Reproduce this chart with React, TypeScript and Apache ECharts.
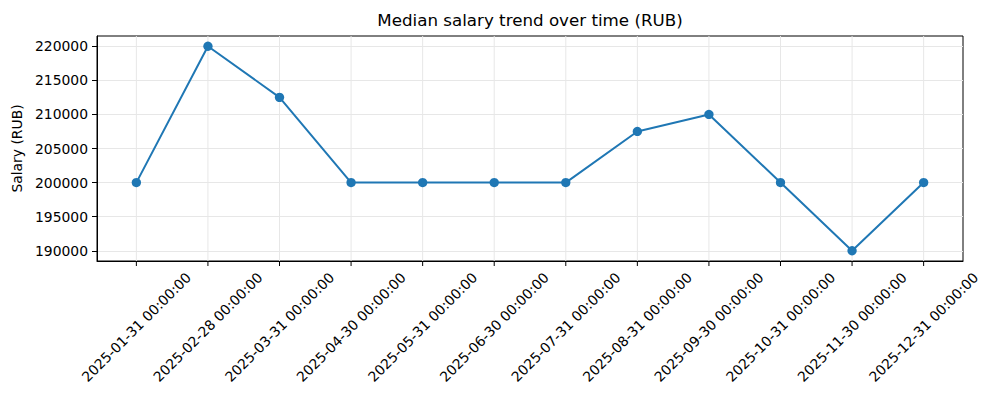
import React, { useEffect, useRef } from "react";
import * as echarts from "echarts";

const categories: string[] = [
  "2025-01-31 00:00:00",
  "2025-02-28 00:00:00",
  "2025-03-31 00:00:00",
  "2025-04-30 00:00:00",
  "2025-05-31 00:00:00",
  "2025-06-30 00:00:00",
  "2025-07-31 00:00:00",
  "2025-08-31 00:00:00",
  "2025-09-30 00:00:00",
  "2025-10-31 00:00:00",
  "2025-11-30 00:00:00",
  "2025-12-31 00:00:00",
];
const salaries: number[] = [
  200000, 220000, 212500, 200000, 200000, 200000, 200000, 207500, 210000, 200000, 190000, 200000,
];
const yTicks: number[] = [190000, 195000, 200000, 205000, 210000, 215000, 220000];

const FONT = "DejaVu Sans";
const Y_MIN = 188500;
const Y_MAX = 221500;

export default function App() {
  const ref = useRef<HTMLDivElement>(null);
  useEffect(() => {
    if (!ref.current) return;
    const chart = echarts.init(ref.current, undefined, { renderer: "svg" });
    const xIdx = categories.map((_, i) => i);
    const n = categories.length;
    const pad = (n - 1) * 0.05;
    chart.setOption({
      animation: false,
      backgroundColor: "#ffffff",
      title: {
        text: "Median salary trend over time (RUB)",
        left: 530,
        top: 11,
        textAlign: "center",
        padding: 0,
        textStyle: { fontFamily: FONT, fontSize: 16.7, fontWeight: "normal", color: "#000" },
      },
      grid: {
        left: 97,
        right: 37,
        top: 36,
        bottom: 139,
        show: true,
        borderColor: "#000",
        borderWidth: 1,
        backgroundColor: "transparent",
      },
      xAxis: {
        type: "value",
        min: -pad,
        max: n - 1 + pad,
        axisLine: { show: true, onZero: false, lineStyle: { color: "#000", width: 1 } },
        axisTick: { show: false },
        axisLabel: {
          customValues: xIdx,
          rotate: 45,
          align: "center",
          verticalAlign: "middle",
          margin: 66,
          fontFamily: FONT,
          fontSize: 13.9,
          color: "#000",
          formatter: (v: number) => categories[Math.round(v)] ?? "",
        },
        splitLine: { show: false },
      },
      yAxis: {
        type: "value",
        min: Y_MIN,
        max: Y_MAX,
        name: "Salary (RUB)",
        nameLocation: "middle",
        nameGap: 66,
        nameTextStyle: { fontFamily: FONT, fontSize: 13.9, color: "#000" },
        axisLine: { show: true, onZero: false, lineStyle: { color: "#000", width: 1 } },
        axisTick: { show: true, length: 5, customValues: yTicks, lineStyle: { color: "#000", width: 1 } },
        axisLabel: {
          customValues: yTicks,
          margin: 9,
          fontFamily: FONT,
          fontSize: 13.9,
          color: "#000",
          formatter: (v: number) => String(v),
        },
        splitLine: { show: true, lineStyle: { color: "#e7e7e7", width: 1 } },
      },
      series: [
        {
          type: "custom",
          silent: true,
          z: 1,
          clip: false,
          data: xIdx,
          renderItem: (_params: any, api: any) => {
            const i = api.value(0);
            const top = api.coord([i, Y_MAX]);
            const bot = api.coord([i, Y_MIN]);
            return {
              type: "group",
              children: [
                {
                  type: "line",
                  shape: { x1: top[0], y1: top[1], x2: bot[0], y2: bot[1] },
                  style: { stroke: "#e7e7e7", lineWidth: 1 },
                },
                {
                  type: "line",
                  shape: { x1: bot[0], y1: bot[1], x2: bot[0], y2: bot[1] + 5 },
                  style: { stroke: "#000", lineWidth: 1 },
                },
              ],
            };
          },
          encode: { x: 0 },
        },
        {
          type: "line",
          z: 3,
          data: salaries.map((v, i) => [i, v]),
          symbol: "circle",
          symbolSize: 9.3,
          itemStyle: { color: "#1f77b4" },
          lineStyle: { color: "#1f77b4", width: 2 },
        },
      ],
    });
    return () => chart.dispose();
  }, []);
  return (
    <div
      ref={ref}
      style={{ position: "fixed", left: 0, top: 0, width: 1000, height: 400 }}
    />
  );
}
